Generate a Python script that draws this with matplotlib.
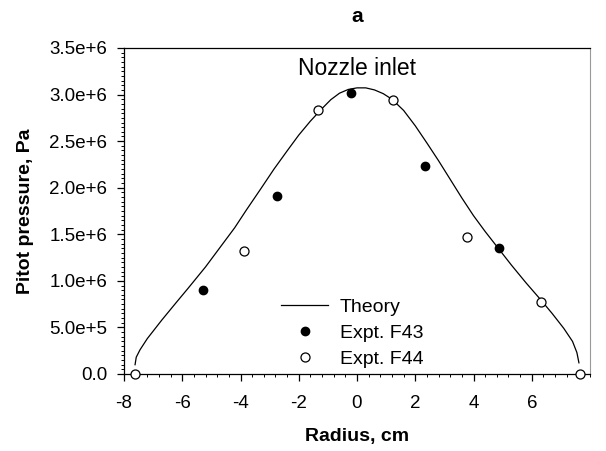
import numpy as np
import matplotlib
matplotlib.use('Agg')
import matplotlib.pyplot as plt
from matplotlib.ticker import MultipleLocator, FuncFormatter

plt.rcParams['font.family'] = ['Liberation Sans', 'DejaVu Sans']
plt.rcParams['axes.unicode_minus'] = False

# theory curve (radius in cm, pressure in Pa)
theory_r = [-7.62, -7.58, -7.45, -7.2, -6.7, -6.2, -5.8, -5.2, -4.7, -4.2, -3.8,
            -3.3, -2.85, -2.4, -2.0, -1.6, -1.2, -0.9, -0.6, -0.3, 0.0, 0.3,
            0.6, 0.9, 1.2, 1.6, 2.0, 2.4, 2.8, 3.2, 3.6, 4.0, 4.4, 4.85, 5.3,
            5.8, 6.3, 6.7, 7.1, 7.4, 7.55, 7.62]
theory_p = [0.10e6, 0.18e6, 0.26e6, 0.38e6, 0.58e6, 0.77e6, 0.92e6, 1.15e6,
            1.36e6, 1.57e6, 1.76e6, 1.99e6, 2.20e6, 2.395e6, 2.565e6, 2.715e6,
            2.85e6, 2.945e6, 3.015e6, 3.055e6, 3.072e6, 3.072e6, 3.05e6,
            3.01e6, 2.95e6, 2.83e6, 2.665e6, 2.48e6, 2.29e6, 2.09e6, 1.89e6,
            1.70e6, 1.53e6, 1.35e6, 1.17e6, 0.98e6, 0.80e6, 0.65e6, 0.49e6,
            0.35e6, 0.23e6, 0.12e6]

f43_r = [-5.3, -2.75, -0.2, 2.33, 4.87]
f43_p = [0.90e6, 1.915e6, 3.02e6, 2.235e6, 1.35e6]

f44_r = [-7.62, -3.87, -1.33, 1.22, 3.77, 6.32, 7.64]
f44_p = [0.0, 1.318e6, 2.836e6, 2.943e6, 1.475e6, 0.777e6, 0.0]

fig = plt.figure(figsize=(6.06, 4.51), dpi=100)
ax = fig.add_axes([124/606, 1-374/451, 466/606, 326/451])

ax.plot(theory_r, theory_p, color='black', lw=0.9, label='Theory', zorder=2)
ax.plot(f43_r, f43_p, 'o', color='black', ms=6, label='Expt. F43',
        clip_on=False, zorder=3)
ax.plot(f44_r, f44_p, 'o', mfc='white', mec='black', mew=0.9, ms=6.5,
        label='Expt. F44', clip_on=False, zorder=3)

ax.set_xlim(-8, 8)
ax.set_ylim(0, 3.5e6)
ax.xaxis.set_major_locator(MultipleLocator(2))
ax.xaxis.set_minor_locator(MultipleLocator(0.4))
ax.yaxis.set_major_locator(MultipleLocator(5e5))
ax.yaxis.set_minor_locator(MultipleLocator(5e4))
ax.set_xticks([-8, -6, -4, -2, 0, 2, 4, 6])


def sci(v, pos):
    if v == 0:
        return '0.0'
    e = int(np.floor(np.log10(abs(v))))
    return '%.1fe+%d' % (v / 10**e, e)


ax.yaxis.set_major_formatter(FuncFormatter(sci))
ax.tick_params(which='major', direction='out', length=5, width=0.9,
               labelsize=13.5, pad=7)
ax.tick_params(axis='x', which='major', pad=10)
ax.tick_params(which='minor', direction='out', length=2.5, width=0.7)
ax.tick_params(top=False, right=False, which='both')
ax.spines['right'].set_color('#999999')
for s in ['left', 'bottom', 'top']:
    ax.spines[s].set_linewidth(0.9)

ax.set_xlabel('Radius, cm', fontsize=14, fontweight='bold', labelpad=12)
ax.set_ylabel('Pitot pressure, Pa', fontsize=14, fontweight='bold', labelpad=11)
ax.set_title('a', fontsize=15, fontweight='bold', pad=19)
ax.text(0, 3.28e6, 'Nozzle inlet', ha='center', va='center', fontsize=16.5)

ax.legend(loc='center', bbox_to_anchor=(0.49, 0.125), frameon=False,
          fontsize=14, handlelength=2.4, handletextpad=0.6, labelspacing=0.42,
          numpoints=1, borderpad=0)

fig.savefig('out.png', dpi=100)
